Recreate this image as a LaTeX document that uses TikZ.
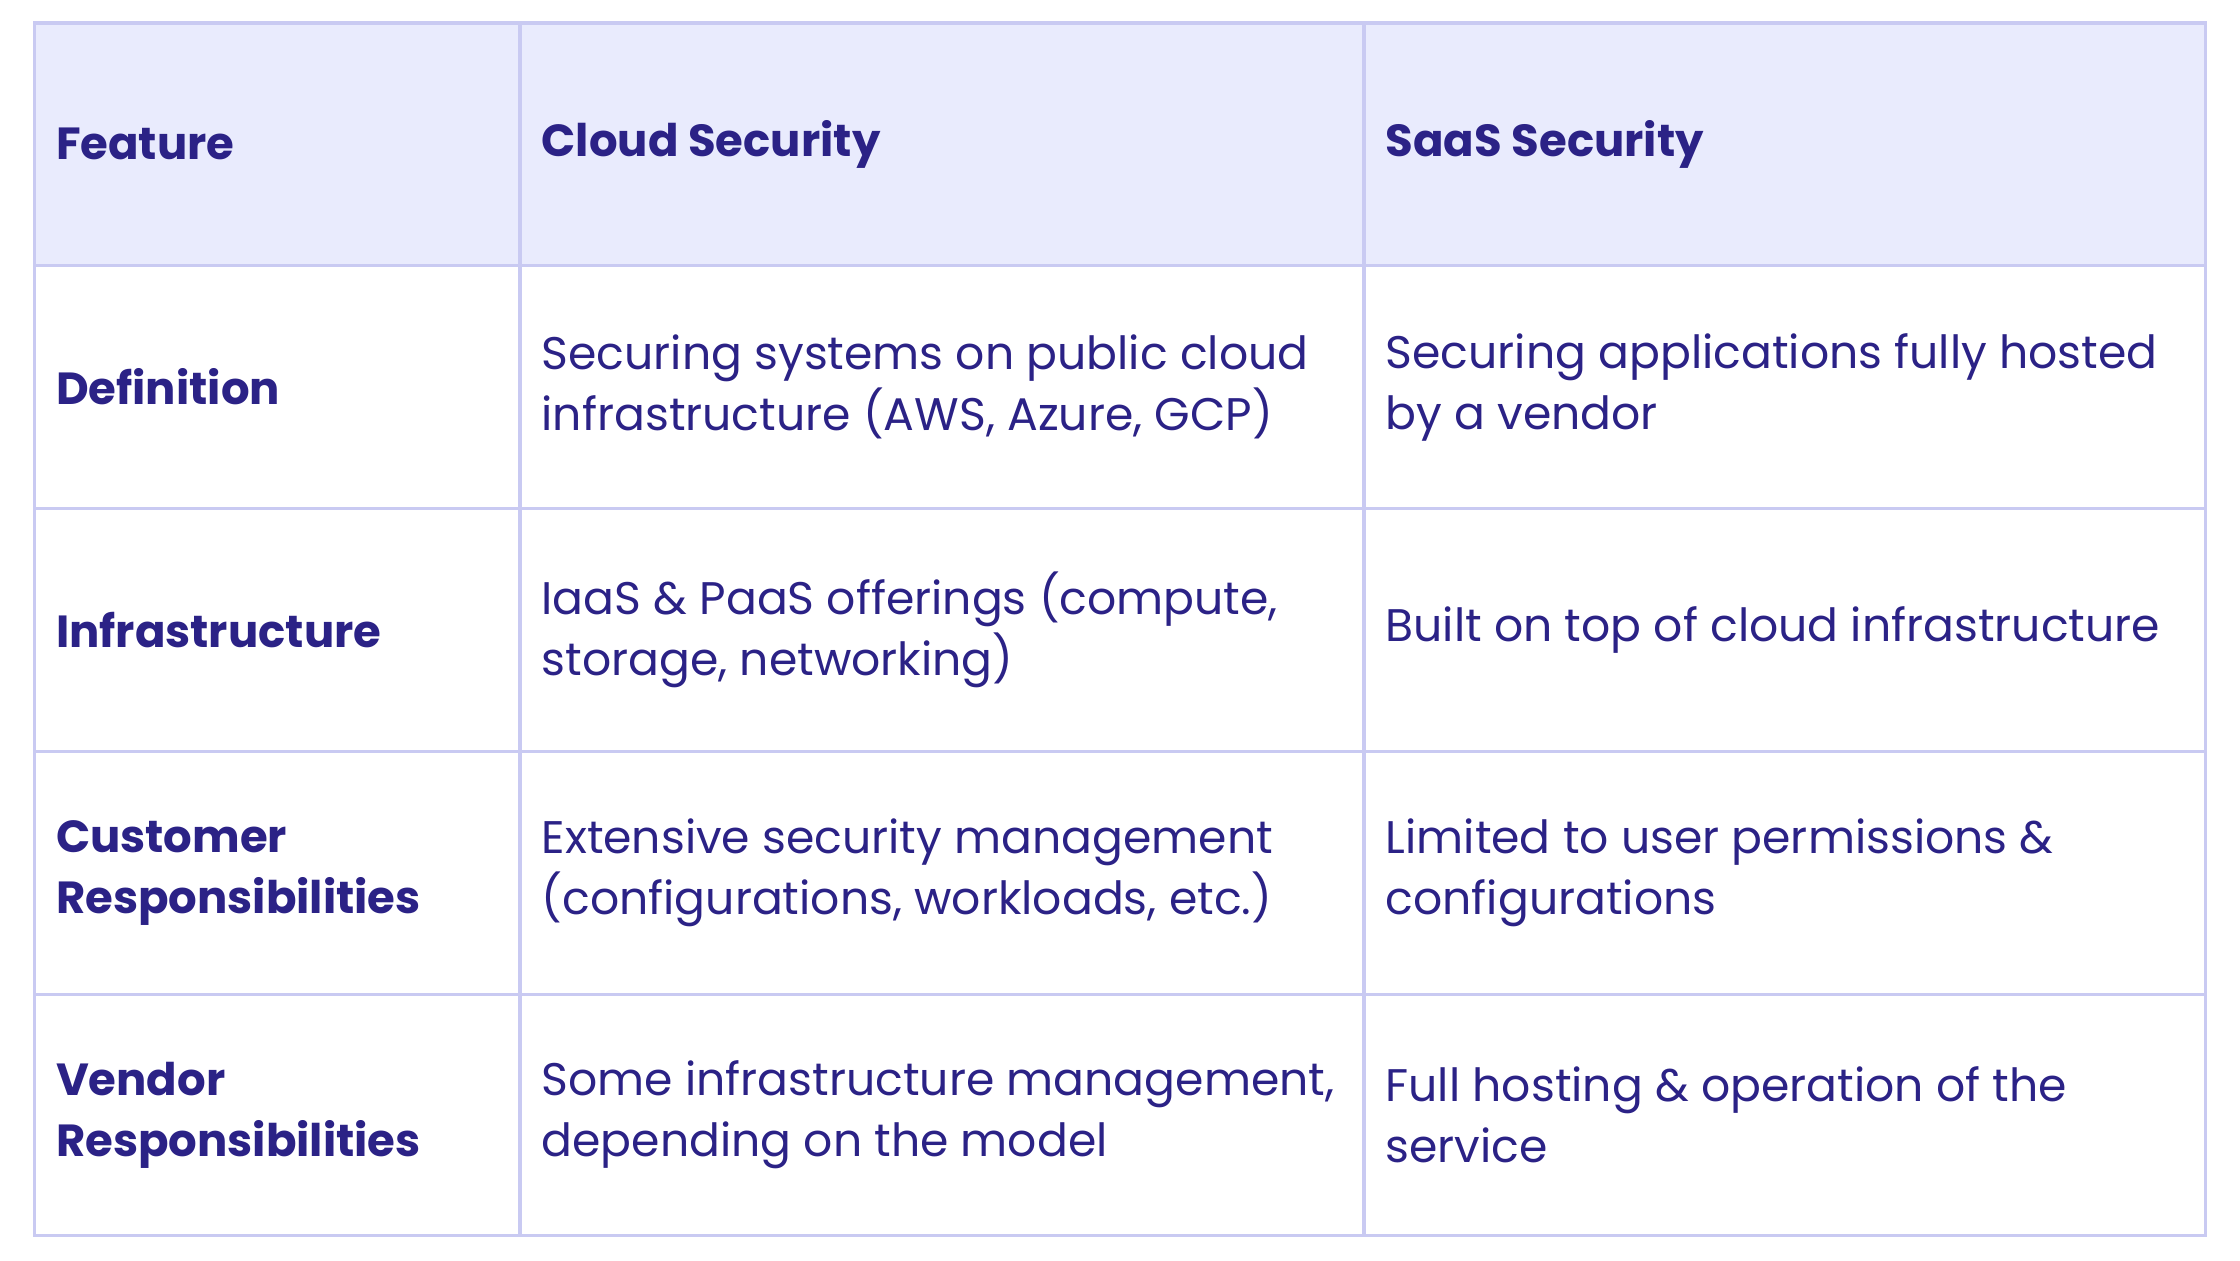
\documentclass[tikz,border=0pt]{standalone}
\usepackage{fontspec}
\setmainfont{Poppins}
\usepackage{xcolor}
\definecolor{ink}{HTML}{2B2286}
\definecolor{headfill}{HTML}{E9EBFD}
\definecolor{gridline}{HTML}{C9CAF2}

\begin{document}
\begin{tikzpicture}[x=1cm,y=1cm,
    cell/.style = {anchor=west, text=ink, align=left, inner sep=0pt,
                   font=\fontsize{13}{17.3}\selectfont},
    headcell/.style = {cell, font=\fontsize{12.8}{17.3}\selectfont\bfseries}]
    \useasboundingbox (0,0) rectangle (22.4,-12.6);
    % Header band and grid
    \fill[headfill] (0.343,-0.229) rectangle (22.057,-2.657);
    \draw[gridline, line width=1pt] (0.343,-0.229) rectangle (22.057,-12.357);
    \foreach \y in {-2.657,-5.086,-7.514,-9.943}
        \draw[gridline, line width=1pt] (0.343,\y) -- (22.057,\y);
    \foreach \x in {5.20,13.64}
        \draw[gridline, line width=1pt] (\x,-0.229) -- (\x,-12.357);

    % Header
    \node[headcell] (hFeat) at (0.553,-1.443) {Feature};
    \node[headcell] (hCloud) at (5.41,-1.443) {Cloud Security};
    \node[headcell] (hSaas) at (13.85,-1.443) {SaaS Security};

    % Rows
    \node[headcell] (fDef) at (0.553,-3.871) {Definition};
    \node[cell] (cDef) at (5.41,-3.871) {Securing systems on public cloud\\infrastructure (AWS, Azure, GCP)};
    \node[cell] (sDef) at (13.85,-3.871) {Securing applications fully hosted\\by a vendor};

    \node[headcell] (fInfra) at (0.553,-6.3) {Infrastructure};
    \node[cell] (cInfra) at (5.41,-6.3) {IaaS \& PaaS offerings (compute,\\storage, networking)};
    \node[cell] (sInfra) at (13.85,-6.3) {Built on top of cloud infrastructure};

    \node[headcell] (fCust) at (0.553,-8.729) {Customer\\Responsibilities};
    \node[cell] (cCust) at (5.41,-8.729) {Extensive security management\\(configurations, workloads, etc.)};
    \node[cell] (sCust) at (13.85,-8.729) {Limited to user permissions \&\\configurations};

    \node[headcell] (fVend) at (0.553,-11.15) {Vendor\\Responsibilities};
    \node[cell] (cVend) at (5.41,-11.15) {Some infrastructure management,\\depending on the model};
    \node[cell] (sVend) at (13.85,-11.15) {Full hosting \& operation of the\\service};
\end{tikzpicture}
\end{document}
